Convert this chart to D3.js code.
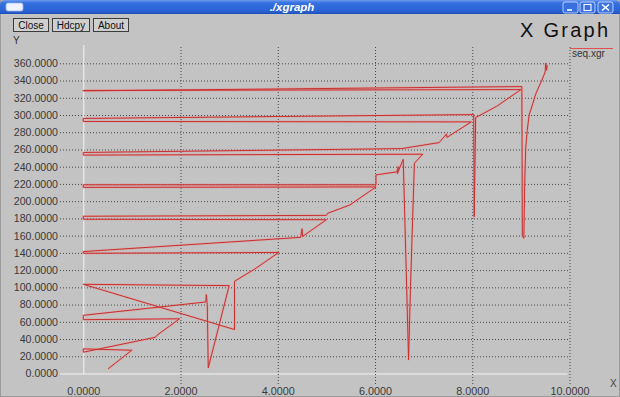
<!DOCTYPE html>
<html>
<head>
<meta charset="utf-8">
<script src="https://cdn.jsdelivr.net/npm/d3@7"></script>
<style>
  html, body { margin: 0; padding: 0; background: #c3c3c3; }
  svg { display: block; }
</style>
</head>
<body>
<svg id="win" width="620" height="397"></svg>
<script>
// seq.xgr — time (s) against sequence number, points in file order
const seqTime = [
  0.51, 1.00, 0.00, 0.00, 1.48, 1.52, 1.98, 0.00, 0.00, 2.52,
  2.53, 2.55, 2.57, 3.00, 0.00, 3.11, 3.11, 3.52, 4.02, 0.00,
  0.00, 4.47, 4.50, 4.51, 5.00, 0.00, 0.00, 5.00, 5.03, 5.48,
  6.02, 0.00, 0.00, 6.02, 6.02, 6.45, 6.48, 6.46, 6.58, 6.64,
  6.69, 6.73, 6.81, 6.98, 0.00, 0.00, 6.55, 7.32, 7.47, 7.48,
  7.98, 0.00, 0.00, 8.03, 8.04, 8.07, 8.50, 9.00, 0.00, 0.00,
  9.02, 9.03, 9.06, 9.08, 9.10, 9.13, 9.17, 9.31, 9.45, 9.50,
  9.51, 9.53, 9.54
];
const seqNum = [
  5.5, 27.0, 28.6, 24.7, 42.0, 44.5, 63.5, 62.5, 67.5, 83.0,
  91.5, 80.0, 6.5, 102.0, 103.5, 51.0, 107.0, 121.0, 140.5, 139.5,
  141.5, 158.0, 168.0, 159.0, 178.5, 179.0, 182.5, 183.5, 186.0, 195.5,
  216.5, 216.0, 219.0, 219.0, 230.5, 234.0, 240.0, 232.0, 248.5, 124.0,
  16.0, 101.0, 244.0, 254.5, 253.5, 256.5, 261.0, 268.0, 278.0, 274.0,
  292.0, 292.5, 296.0, 300.5, 182.0, 297.0, 310.0, 329.5, 328.5, 328.0,
  333.0, 160.0, 157.0, 225.0, 262.0, 282.0, 300.0, 325.0, 343.0, 350.0,
  360.0, 352.0, 358.0
];

const xTicks = [0, 2, 4, 6, 8, 10];
const yTicks = [0, 20, 40, 60, 80, 100, 120, 140, 160, 180, 200,
                220, 240, 260, 280, 300, 320, 340, 360];
const buttonLabels = ["Close", "Hdcpy", "About"];
const windowTitle = "./xgraph";
const graphTitle = "X Graph";
const seriesName = "seq.xgr";

const svg = d3.select("#win");
const W = 620, H = 397;
const FONT = "'Liberation Sans', Arial, sans-serif";

// ---------- window frame ----------
svg.append("rect").attr("width", W).attr("height", H).attr("fill", "#c3c3c3");
svg.append("rect").attr("x", 0.5).attr("y", 0).attr("width", W - 1).attr("height", H - 0.5)
  .attr("fill", "none").attr("stroke", "#9a9a9a").attr("stroke-width", 1);

const defs = svg.append("defs");
const tg = defs.append("linearGradient").attr("id", "titleGrad")
  .attr("x1", 0).attr("y1", 0).attr("x2", 0).attr("y2", 1);
tg.append("stop").attr("offset", "0%").attr("stop-color", "#6f9cf0");
tg.append("stop").attr("offset", "20%").attr("stop-color", "#3571e0");
tg.append("stop").attr("offset", "80%").attr("stop-color", "#2a62d4");
tg.append("stop").attr("offset", "100%").attr("stop-color", "#1f4fb8");

svg.append("path")
  .attr("d", "M0,14 L0,5 Q0,0 6,0 L614,0 Q620,0 620,5 L620,14 Z")
  .attr("fill", "url(#titleGrad)");

// window menu icon
svg.append("rect").attr("x", 6).attr("y", 3).attr("width", 17).attr("height", 8)
  .attr("rx", 2).attr("fill", "#eef3ff").attr("stroke", "#9fb8ea").attr("stroke-width", 0.8);

svg.append("text").attr("x", 292).attr("y", 11)
  .attr("text-anchor", "middle").attr("fill", "#ffffff")
  .attr("font-family", FONT).attr("font-size", 11.5)
  .attr("font-weight", "bold").attr("font-style", "italic")
  .text(windowTitle);

// minimise / maximise / close
const wbX = [563, 580, 598];
wbX.forEach((bx, i) => {
  svg.append("rect").attr("x", bx).attr("y", 2).attr("width", 15).attr("height", 11)
    .attr("rx", 2).attr("fill", i === 2 ? "#3d74e0" : "#3a70dd")
    .attr("stroke", "#dbe6ff").attr("stroke-width", 0.8);
});
svg.append("line").attr("x1", 567).attr("x2", 572).attr("y1", 10).attr("y2", 10)
  .attr("stroke", "#fff").attr("stroke-width", 1.6);
svg.append("rect").attr("x", 584).attr("y", 4.5).attr("width", 7).attr("height", 6)
  .attr("fill", "none").attr("stroke", "#fff").attr("stroke-width", 1.1);
svg.append("path").attr("d", "M602,4.5 L609,10.5 M609,4.5 L602,10.5")
  .attr("stroke", "#fff").attr("stroke-width", 1.6);

// ---------- xgraph buttons ----------
const btnX = [13, 52, 93];
const btnW = [35, 37, 35];
buttonLabels.forEach((lab, i) => {
  svg.append("rect").attr("x", btnX[i] + 0.5).attr("y", 18.5)
    .attr("width", btnW[i]).attr("height", 13)
    .attr("fill", "#cfcfcf").attr("stroke", "#3c3c3c").attr("stroke-width", 1);
  svg.append("text").attr("x", btnX[i] + btnW[i] / 2 + 0.5).attr("y", 28.7)
    .attr("text-anchor", "middle").attr("fill", "#111")
    .attr("font-family", FONT).attr("font-size", 10).text(lab);
});

svg.append("text").attr("x", 520).attr("y", 37)
  .attr("fill", "#111").attr("font-family", FONT).attr("font-size", 20)
  .attr("textLength", 88).attr("lengthAdjust", "spacing")
  .text(graphTitle);

svg.append("text").attr("x", 13).attr("y", 44)
  .attr("fill", "#333").attr("font-family", FONT).attr("font-size", 10).text("Y");
svg.append("text").attr("x", 610).attr("y", 387)
  .attr("fill", "#444").attr("font-family", FONT).attr("font-size", 10).text("X");

// ---------- scales & grid ----------
const x = d3.scaleLinear().domain([0, 10]).range([83.3, 569.5]);
const y = d3.scaleLinear().domain([0, 360]).range([373.5, 63.3]);

const gridLeft = 60, gridTop = 47, gridBottom = 385;
const fmt = d3.format(".4f");

const yAxis = svg.append("g").attr("transform", `translate(${gridLeft},0)`)
  .call(d3.axisLeft(y).tickValues(yTicks).tickFormat(fmt)
    .tickSizeInner(-(x.range()[1] - gridLeft)).tickSizeOuter(0).tickPadding(2));
yAxis.select(".domain").remove();
yAxis.selectAll(".tick line")
  .attr("stroke", "#4a4a4a").attr("stroke-width", 1).attr("stroke-dasharray", "1,2")
  .filter(d => d === 0)
  .attr("stroke", "#f4f4f4").attr("stroke-dasharray", null).attr("x2", x.range()[1] - 2 - gridLeft);
yAxis.selectAll(".tick text")
  .attr("fill", "#3a3a3a").attr("font-family", FONT).attr("font-size", 10.6);

const xAxis = svg.append("g").attr("transform", `translate(0,${gridTop})`)
  .call(d3.axisBottom(x).tickValues(xTicks).tickFormat(fmt)
    .tickSizeInner(gridBottom - gridTop).tickSizeOuter(0).tickPadding(2));
xAxis.select(".domain").remove();
xAxis.selectAll(".tick line")
  .attr("stroke", "#4a4a4a").attr("stroke-width", 1).attr("stroke-dasharray", "1,2")
  .filter(d => d === 0)
  .attr("stroke", "#f4f4f4").attr("stroke-dasharray", null)
  .attr("y1", -2).attr("y2", y(0) - gridTop);
xAxis.selectAll(".tick text")
  .attr("fill", "#3a3a3a").attr("font-family", FONT).attr("font-size", 10.8);

// ---------- legend ----------
svg.append("line").attr("x1", 570).attr("x2", 613).attr("y1", 48.5).attr("y2", 48.5)
  .attr("stroke", "#e05050").attr("stroke-width", 1);
svg.append("text").attr("x", 572).attr("y", 57)
  .attr("fill", "#333").attr("font-family", FONT).attr("font-size", 10).text(seriesName);

// ---------- series ----------
const pts = seqTime.map((t, i) => [t, seqNum[i]]);
const line = d3.line().x(d => x(d[0])).y(d => y(d[1]));
svg.append("path").datum(pts).attr("d", line)
  .attr("fill", "none").attr("stroke", "#f08a8a").attr("stroke-width", 2.2)
  .attr("stroke-opacity", 0.45).attr("stroke-linejoin", "round");
svg.append("path").datum(pts).attr("d", line)
  .attr("fill", "none").attr("stroke", "#c83030").attr("stroke-width", 1)
  .attr("stroke-linejoin", "round");
</script>
</body>
</html>
